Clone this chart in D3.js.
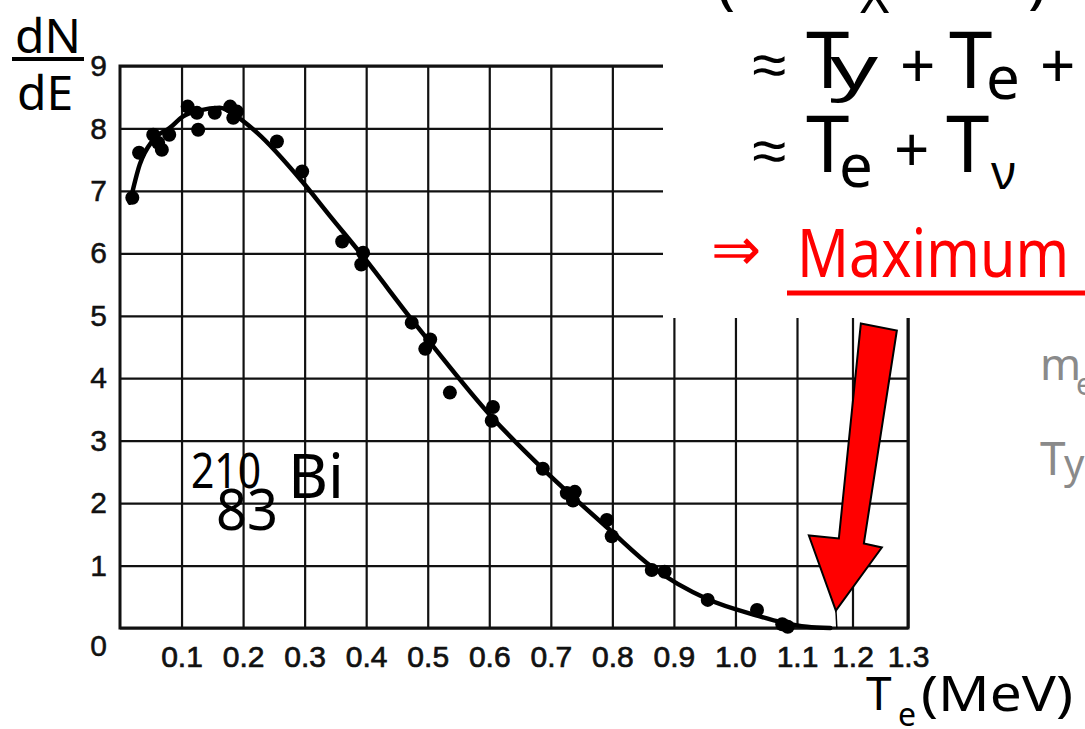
<!DOCTYPE html>
<html>
<head>
<meta charset="utf-8">
<script src="https://cdn.jsdelivr.net/npm/d3@7"></script>
<style>
  html, body { margin: 0; padding: 0; background: #fff; }
  svg { display: block; }
</style>
</head>
<body>
<div id="chart"></div>
<script>
// Tick values
const xTicks = [0.1, 0.2, 0.3, 0.4, 0.5, 0.6, 0.7, 0.8, 0.9, 1.0, 1.1, 1.2, 1.3];
const yTicks = [0, 1, 2, 3, 4, 5, 6, 7, 8, 9];

// Measured points, 210Bi beta spectrum (T_e in MeV, dN/dE)
const pointE = [0.020, 0.031, 0.054, 0.062, 0.068, 0.080, 0.110, 0.125, 0.127, 0.154,
                0.179, 0.184, 0.190, 0.255, 0.296, 0.361, 0.395, 0.392, 0.474, 0.504,
                0.496, 0.536, 0.606, 0.604, 0.687, 0.726, 0.739, 0.736, 0.791, 0.799,
                0.864, 0.885, 0.955, 1.035, 1.076, 1.085];
const pointN = [6.89, 7.61, 7.90, 7.77, 7.66, 7.90, 8.35, 8.25, 7.98, 8.25,
                8.35, 8.17, 8.27, 7.79, 7.31, 6.19, 6.01, 5.82, 4.89, 4.62,
                4.47, 3.77, 3.54, 3.32, 2.55, 2.16, 2.18, 2.04, 1.73, 1.47,
                0.93, 0.90, 0.45, 0.29, 0.06, 0.02];

// Fitted curve
const curveE = [0.016, 0.032, 0.054, 0.081, 0.102, 0.130, 0.162, 0.190, 0.223, 0.296,
                0.341, 0.395, 0.474, 0.504, 0.604, 0.687, 0.736, 0.796, 0.864, 0.955,
                1.035, 1.076, 1.118, 1.160];
const curveN = [6.81, 7.42, 7.82, 8.01, 8.19, 8.29, 8.33, 8.19, 7.93, 7.15,
                6.60, 5.95, 4.94, 4.57, 3.38, 2.55, 2.10, 1.57, 0.98, 0.46,
                0.20, 0.09, 0.02, 0.00];

// Endpoint the arrow points at
const endpoint = { e: 1.17, n: 0.28 };

const width = 1085;
const height = 729;
const comic = "'Comic Sans MS', 'Noto Sans', sans-serif";
const plain = "'Liberation Sans', Arial, sans-serif";

const svg = d3.select('#chart')
  .append('svg')
  .attr('width', width)
  .attr('height', height);

// Scales (the scanned grid is slightly compressed past 1.1 MeV)
const x = d3.scaleLinear()
  .domain([0, 1.1, 1.3])
  .range([120, 797, 908]);

const y = d3.scaleLinear()
  .domain([0, 9])
  .range([628, 66]);

// Vertical grid + x labels
const xAxis = svg.append('g')
  .attr('transform', `translate(0,${y(0)})`)
  .call(d3.axisBottom(x)
    .tickValues(xTicks)
    .tickSize(-(y(0) - y(9)))
    .tickPadding(18)
    .tickFormat(d3.format('.1f')));
xAxis.select('.domain').remove();
xAxis.selectAll('line').attr('stroke', '#111').attr('stroke-width', 2.2);
xAxis.selectAll('text')
  .attr('fill', '#111')
  .attr('stroke', '#111')
  .attr('stroke-width', 0.7)
  .style('font-family', plain)
  .style('font-size', '30px');

// Horizontal grid + y labels
const yAxis = svg.append('g')
  .attr('transform', `translate(${x(0)},0)`)
  .call(d3.axisLeft(y)
    .tickValues(yTicks)
    .tickSize(-(x(1.3) - x(0)))
    .tickPadding(13));
yAxis.select('.domain').remove();
yAxis.selectAll('line').attr('stroke', '#111').attr('stroke-width', 2.2);
yAxis.selectAll('text')
  .attr('fill', '#111')
  .attr('stroke', '#111')
  .attr('stroke-width', 0.5)
  .style('font-family', plain)
  .style('font-size', '30px');
// the origin label sits below the axis line
yAxis.selectAll('text').filter(d => d === 0).attr('dy', '0.92em');

// Plot border
svg.append('rect')
  .attr('x', x(0))
  .attr('y', y(9))
  .attr('width', x(1.3) - x(0))
  .attr('height', y(0) - y(9))
  .attr('fill', 'none')
  .attr('stroke', '#111')
  .attr('stroke-width', 3);

// Slide text box covers the top right of the scan
svg.append('rect')
  .attr('x', 663)
  .attr('y', 0)
  .attr('width', width - 663)
  .attr('height', 318)
  .attr('fill', '#fff');

// Curve
const line = d3.line()
  .x((d, i) => x(curveE[i]))
  .y(d => y(d))
  .curve(d3.curveMonotoneX);

svg.append('path')
  .datum(curveN)
  .attr('fill', 'none')
  .attr('stroke', '#000')
  .attr('stroke-width', 4.5)
  .attr('stroke-linecap', 'round')
  .attr('d', line);

// Points
svg.selectAll('.point')
  .data(pointN)
  .enter()
  .append('circle')
  .attr('class', 'point')
  .attr('cx', (d, i) => x(pointE[i]))
  .attr('cy', d => y(d))
  .attr('r', 7)
  .attr('fill', '#000');

// dN/dE label
svg.append('text')
  .attr('x', 48).attr('y', 53)
  .attr('text-anchor', 'middle')
  .style('font-family', comic).style('font-size', '48px')
  .text('dN');
svg.append('line')
  .attr('x1', 12).attr('x2', 84)
  .attr('y1', 59).attr('y2', 59)
  .attr('stroke', '#000').attr('stroke-width', 4);
svg.append('text')
  .attr('x', 45).attr('y', 110)
  .attr('text-anchor', 'middle')
  .style('font-family', comic).style('font-size', '48px')
  .text('dE');

// Nuclide label
const bi = svg.append('g').style('font-family', comic).attr('fill', '#000');
bi.append('text').attr('x', 191).attr('y', 488)
  .attr('textLength', 70).attr('lengthAdjust', 'spacingAndGlyphs')
  .style('font-size', '50px').text('210');
bi.append('text').attr('x', 216).attr('y', 530)
  .attr('textLength', 62).attr('lengthAdjust', 'spacingAndGlyphs')
  .style('font-size', '56px').text('83');
bi.append('text').attr('x', 288).attr('y', 498)
  .attr('textLength', 56).attr('lengthAdjust', 'spacingAndGlyphs')
  .style('font-size', '62px').text('Bi');

// Axis title T_e (MeV)
const xt = svg.append('g').style('font-family', comic).attr('fill', '#000');
xt.append('text').attr('x', 866).attr('y', 710).style('font-size', '46px').text('T');
xt.append('text').attr('x', 898).attr('y', 726).style('font-size', '32px').text('e');
xt.append('text').attr('x', 921).attr('y', 711)
  .attr('textLength', 152).attr('lengthAdjust', 'spacingAndGlyphs')
  .style('font-size', '50px').text('(MeV)');

// Equations at the top right (first line is cut off by the page edge)
const eq = svg.append('g').style('font-family', comic).attr('fill', '#000');
eq.append('text').attr('x', 716).attr('y', 2).style('font-size', '64px').text('(');
eq.append('text').attr('x', 860).attr('y', 13).style('font-size', '50px').text('X');
eq.append('text').attr('x', 1028).attr('y', 1).style('font-size', '64px').text(')');

eq.append('text').attr('x', 752).attr('y', 86).style('font-size', '62px').text('≈');
eq.append('text').attr('x', 806).attr('y', 88).style('font-size', '78px').text('T');
eq.append('text').attr('x', 830).attr('y', 89)
  .attr('textLength', 48).attr('lengthAdjust', 'spacingAndGlyphs')
  .style('font-size', '60px').text('y');
eq.append('text').attr('x', 900).attr('y', 88).style('font-size', '62px').text('+');
eq.append('text').attr('x', 949).attr('y', 88).style('font-size', '78px').text('T');
eq.append('text').attr('x', 986).attr('y', 99).style('font-size', '60px').text('e');
eq.append('text').attr('x', 1040).attr('y', 88).style('font-size', '62px').text('+');

eq.append('text').attr('x', 752).attr('y', 172).style('font-size', '62px').text('≈');
eq.append('text').attr('x', 806).attr('y', 172).style('font-size', '78px').text('T');
eq.append('text').attr('x', 839).attr('y', 187).style('font-size', '60px').text('e');
eq.append('text').attr('x', 894).attr('y', 172).style('font-size', '62px').text('+');
eq.append('text').attr('x', 946).attr('y', 172).style('font-size', '78px').text('T');
eq.append('text').attr('x', 991).attr('y', 189).style('font-size', '48px').text('ν');

// Maximum (red, underlined)
const mx = svg.append('g').style('font-family', comic).attr('fill', '#f00');
mx.append('text').attr('x', 711).attr('y', 270).style('font-size', '60px').text('⇒');
mx.append('text').attr('x', 797).attr('y', 277)
  .attr('textLength', 272).attr('lengthAdjust', 'spacingAndGlyphs')
  .style('font-size', '68px').text('Maximum');
mx.append('line')
  .attr('x1', 787).attr('x2', width)
  .attr('y1', 293).attr('y2', 293)
  .attr('stroke', '#f00').attr('stroke-width', 5);

// Grey side notes
const side = svg.append('g').style('font-family', comic).attr('fill', '#8a8a8a');
side.append('text').attr('x', 1040).attr('y', 380).style('font-size', '44px').text('m');
side.append('text').attr('x', 1076).attr('y', 395).style('font-size', '30px').text('e');
side.append('text').attr('x', 1040).attr('y', 475).style('font-size', '46px').text('T');
side.append('text').attr('x', 1064).attr('y', 478).style('font-size', '40px').text('y');

// Red arrow pointing at the endpoint energy
const tipX = x(endpoint.e);
const tipY = y(endpoint.n);
const arrowShape = [[25, -287], [61, -280], [28, -67], [46, -63], [0, 0], [-27, -75], [3, -72]];

svg.append('line')
  .attr('x1', tipX).attr('y1', tipY - 2)
  .attr('x2', tipX + 1).attr('y2', y(0))
  .attr('stroke', '#000').attr('stroke-width', 1.5);

svg.append('polygon')
  .attr('points', arrowShape.map(p => [tipX + p[0], tipY + p[1]].join(',')).join(' '))
  .attr('fill', '#ff0000')
  .attr('stroke', '#000')
  .attr('stroke-width', 2)
  .attr('stroke-linejoin', 'miter');
</script>
</body>
</html>
